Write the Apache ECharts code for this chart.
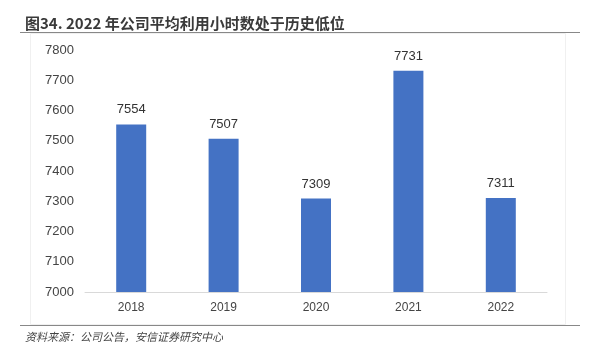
<!DOCTYPE html>
<html><head><meta charset="utf-8">
<script src="https://cdn.jsdelivr.net/npm/echarts@6/dist/echarts.min.js"></script>
<style>html,body{margin:0;padding:0;background:#fff;}#c{width:591px;height:353px;}</style>
</head><body><div id="c"></div>
<script>
const categories = ['2018','2019','2020','2021','2022'];
const values = [7554, 7507, 7309, 7731, 7311];
const titleText = '图34. 2022 年公司平均利用小时数处于历史低位';
const sourceText = '资料来源：公司公告，安信证券研究中心';

const chart = echarts.init(document.getElementById('c'), null, {renderer:'canvas'});
chart.setOption({
  animation:false,
  backgroundColor:'#fff',
  title:[{
    text:titleText, left:20, top:11,
    textStyle:{fontSize:15, fontWeight:'bold', color:'#3a3a3a', fontFamily:'"Noto Sans CJK SC", sans-serif'}
  },{
    text:sourceText, left:20, top:326,
    textStyle:{fontSize:11, fontWeight:'normal', fontStyle:'italic', color:'#444', fontFamily:'"Noto Sans CJK SC", sans-serif'}
  }],
  graphic:[
    {type:'line', shape:{x1:20,y1:32.5,x2:580,y2:32.5}, style:{stroke:'#888', lineWidth:1}},
    {type:'line', shape:{x1:20,y1:325.5,x2:580,y2:325.5}, style:{stroke:'#888', lineWidth:1}},
    {type:'rect', shape:{x:30.5,y:33.5,width:535,height:291}, style:{fill:'none', stroke:'#f0f0f0', lineWidth:1}}
  ],
  grid:{left:85, right:44, top:50, bottom:61},
  xAxis:{
    type:'category', data:categories,
    axisLine:{lineStyle:{color:'#d9d9d9'}},
    axisTick:{show:false},
    axisLabel:{color:'#444', fontSize:12, margin:10, fontFamily:'"Liberation Sans", Arial, sans-serif'}
  },
  yAxis:{
    type:'value', min:7000, max:7800, interval:100,
    axisLine:{show:false}, axisTick:{show:false},
    splitLine:{show:false},
    axisLabel:{color:'#444', fontSize:13, margin:11, formatter:v=>String(v), fontFamily:'"Liberation Sans", Arial, sans-serif'}
  },
  series:[{
    type:'bar', data:values, barWidth:30,
    itemStyle:{color:'#4472C4'},
    label:{show:true, position:'top', distance:8, color:'#333', fontSize:13, fontFamily:'"Liberation Sans", Arial, sans-serif'}
  }]
});
</script></body></html>
